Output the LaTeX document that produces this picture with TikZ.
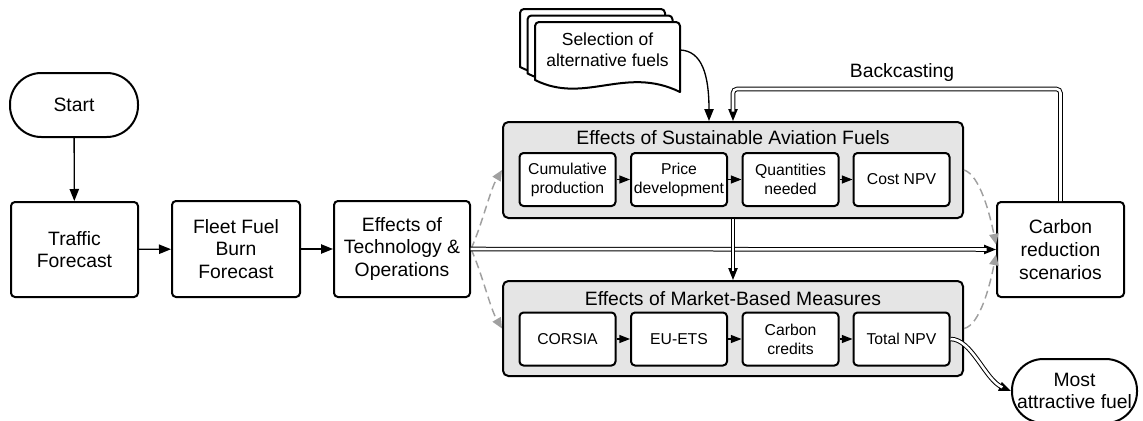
\documentclass[tikz,border=0pt]{standalone}
\usepackage{fontspec}
\setmainfont{Liberation Sans}
\usetikzlibrary{arrows.meta}

\definecolor{grpgray}{RGB}{229,229,229}
\definecolor{dashgray}{RGB}{160,160,160}

\newcommand\fbig{\fontsize{14.5}{17}\selectfont}
\newcommand\fsmall{\fontsize{11.8}{14.2}\selectfont}
\newcommand\fsel{\fontsize{13.1}{15.7}\selectfont}

% one sheet of the stacked document symbol, shifted by (#1,#2)
\newcommand\docsheet[2]{%
  \begin{scope}[shift={(#1,#2)}]
    \filldraw[fill=white, line width=1.5pt, line join=round]
      (535,80) [rounded corners=3pt] -- (535,22) -- (680,22) [sharp corners] -- (680,92)
      .. controls (625,65) and (585,105) .. (535,80) -- cycle;
  \end{scope}}

\begin{document}
\begin{tikzpicture}[x=0.75pt,y=-0.75pt,
  box/.style={draw, line width=1.5pt, rounded corners=3pt, fill=white,
    align=center, font=\fbig, inner sep=0pt},
  term/.style={box, rounded corners=23.5pt},
  grp/.style={draw, line width=1.5pt, rounded corners=4pt, fill=grpgray, inner sep=0pt},
  sub/.style={box, font=\fsmall, minimum width=72pt, minimum height=39.75pt},
  arr/.style={line width=1pt, -{Triangle[length=9pt,width=7pt]}},
  arrs/.style={line width=1pt, -{Triangle[length=8pt,width=6pt]}},
  dbl/.style={line width=0.75pt, double distance=1.9pt},
  gdash/.style={draw=dashgray, line width=1.1pt, dash pattern=on 6pt off 3.5pt,
    -{Triangle[length=8pt,width=7pt]}}]

\clip (0,0) rectangle (1143,421);

% left chain
\node[term, minimum width=96pt, minimum height=48pt] (start) at (74,105) {Start};
\node[box, minimum width=95.25pt, minimum height=71.25pt] (traffic) at (74.5,249.5) {Traffic\\Forecast};
\node[box, minimum width=96pt, minimum height=72pt] (fleet) at (236,249) {Fleet Fuel\\Burn\\Forecast};
\node[box, minimum width=102pt, minimum height=72pt] (tech) at (402,249) {Effects of\\Technology \&\\Operations};

% result boxes on the right
\node[box, minimum width=95.25pt, minimum height=71.25pt] (carbon) at (1060.5,249.5) {Carbon\\reduction\\scenarios};
\node[term, minimum width=93.75pt, minimum height=48pt] (most) at (1074.5,391) {Most\\attractive fuel};

% group: sustainable aviation fuels
\node[grp, minimum width=345pt, minimum height=72pt] (saf) at (733,170) {};
\node[font=\fbig] (saftitle) at (733,138) {Effects of Sustainable Aviation Fuels};
\node[sub] (cum) at (567.5,179.5) {Cumulative\\production};
\node[sub] (price) at (679,179.5) {Price\\development};
\node[sub] (qty) at (790.5,179.5) {Quantities\\needed};
\node[sub] (cost) at (901.5,179.5) {Cost NPV};

% group: market-based measures
\node[grp, minimum width=345pt, minimum height=71.25pt] (mbm) at (733,328.5) {};
\node[font=\fbig] (mbmtitle) at (733,299) {Effects of Market-Based Measures};
\node[sub] (corsia) at (567.5,339) {CORSIA};
\node[sub] (euets) at (679,339) {EU-ETS};
\node[sub] (credits) at (790.5,339) {Carbon\\credits};
\node[sub] (total) at (901.5,339) {Total NPV};

% stacked documents
\docsheet{-15}{-13}
\docsheet{-7.5}{-6.5}
\docsheet{0}{0}
\node[font=\fsel, align=center, minimum width=108.75pt, inner sep=0pt] (sel) at (607.5,50) {Selection of\\alternative fuels};

% single connectors
\draw[arr] (start) -- (traffic);
\draw[arr] (traffic) -- (fleet);
\draw[arr] (fleet) -- (tech);
\draw[arrs] (cum) -- (price);
\draw[arrs] (price) -- (qty);
\draw[arrs] (qty) -- (cost);
\draw[arrs] (corsia) -- (euets);
\draw[arrs] (euets) -- (credits);
\draw[arrs] (credits) -- (total);
\draw[arr] (sel.east) .. controls (702,51) and (709,75) .. ([xshift=-18pt]saf.north);

% grey dashed influences
\draw[gdash] (tech.east) .. controls (482,225) and (490,190) .. (saf.west);
\draw[gdash] (tech.east) .. controls (482,273) and (490,308) .. (mbm.west);
\draw[gdash] (saf.east) .. controls (980,175) and (990,215) .. ([yshift=3.75pt]carbon.west);
\draw[gdash] (mbm.east) .. controls (980,325) and (990,285) .. ([yshift=-3.75pt]carbon.west);

% double connectors: arrow tip first, double line on top
\coordinate (bk) at (733,89);
\draw[arr] (tech.east) -- (carbon.west);
\draw[dbl, shorten >=7pt] (tech.east) -- (carbon.west);
\draw[arr] (saf.south) -- (mbm.north);
\draw[dbl, shorten >=7pt] (saf.south) -- (mbm.north);
\draw[arr, rounded corners=3pt] (carbon.north) |- (bk) -- (saf.north);
\draw[dbl, rounded corners=3pt, shorten >=7pt] (carbon.north) |- (bk) -- (saf.north);
\draw[arr] (total.east) .. controls (972,339) and (985,380) .. (most.west);
\draw[dbl, shorten >=7pt] (total.east) .. controls (972,339) and (985,380) .. (most.west);

\node[font=\fbig] (back) at (902,73) {Backcasting};
\end{tikzpicture}
\end{document}
